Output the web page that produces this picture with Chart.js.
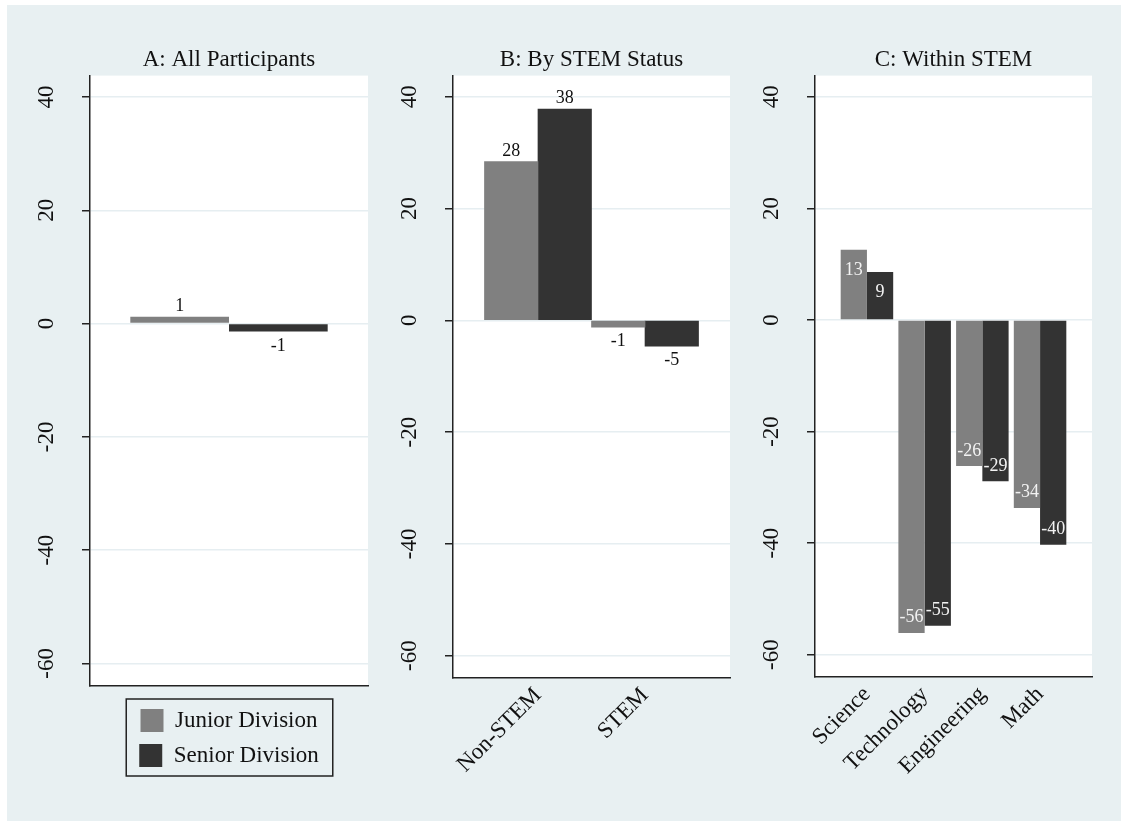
<!DOCTYPE html>
<html lang="en">
<head>
    <meta charset="UTF-8" />
    <title>Junior vs Senior Division</title>
    <script src="https://cdn.jsdelivr.net/npm/chart.js"></script>
    <style>
        body { margin: 0; background: #fff; width: 1121px; height: 821px; position: relative; overflow: hidden; }
        .region { position: absolute; left: 7px; top: 5px; right: 0; bottom: 0; background: #e8f0f2; }
        canvas { position: absolute; top: 0; }
    </style>
</head>
<body>
    <div class="region"></div>
    <canvas id="panelA" width="373" height="821" style="left:0px"></canvas>
    <canvas id="panelB" width="362" height="821" style="left:373px"></canvas>
    <canvas id="panelC" width="386" height="821" style="left:735px"></canvas>

    <script>
        // Data
        const seriesNames = ['Junior Division', 'Senior Division'];
        const yTicks = [40, 20, 0, -20, -40, -60];

        const catsA = ['All Participants'];
        const juniorA = [1.2];
        const seniorA = [-1.4];

        const catsB = ['Non-STEM', 'STEM'];
        const juniorB = [28.4, -1.2];
        const seniorB = [37.8, -4.6];

        const catsC = ['Science', 'Technology', 'Engineering', 'Math'];
        const juniorC = [12.6, -56.1, -26.2, -33.7];
        const seniorC = [8.6, -54.8, -28.9, -40.3];

        const serif = "'Liberation Serif', 'DejaVu Serif', serif";
        const juniorColor = '#808080';
        const seniorColor = '#333333';
        const axisColor = '#222222';
        const gridColor = '#e6eef1';
        const bigFont = 23;

        // white plot region
        const plotBg = {
            id: 'plotBg',
            beforeDraw(chart) {
                const a = chart.chartArea;
                chart.ctx.save();
                chart.ctx.fillStyle = '#ffffff';
                chart.ctx.fillRect(a.left, a.top, a.right - a.left, a.bottom - a.top);
                chart.ctx.restore();
            }
        };

        // value labels on the bars
        const barLabels = {
            id: 'barLabels',
            afterDatasetsDraw(chart, args, opts) {
                const ctx = chart.ctx;
                ctx.save();
                ctx.font = opts.size + 'px ' + serif;
                ctx.textAlign = 'center';
                ctx.textBaseline = 'alphabetic';
                chart.data.datasets.forEach((ds, di) => {
                    chart.getDatasetMeta(di).data.forEach((bar, i) => {
                        const v = ds.data[i].y;
                        let y;
                        if (opts.inside) {
                            ctx.fillStyle = '#f2f2f2';
                            y = v >= 0 ? bar.y + 25 : bar.y - 10.5;
                        } else {
                            ctx.fillStyle = '#111111';
                            y = v >= 0 ? bar.y - 6 : bar.y + 19;
                        }
                        ctx.fillText(String(Math.round(v)), bar.x, y);
                    });
                });
                ctx.restore();
            }
        };

        // framed legend box
        const legendFrame = {
            id: 'legendFrame',
            afterDraw(chart) {
                const lg = chart.legend;
                if (!lg || !lg.options.display || !lg.legendHitBoxes.length) return;
                const hb = lg.legendHitBoxes;
                const left = Math.min(...hb.map(h => h.left)) - 13;
                const right = Math.max(...hb.map(h => h.left + h.width)) + 14;
                const top = Math.min(...hb.map(h => h.top)) - 10;
                const bottom = Math.max(...hb.map(h => h.top + h.height)) + 9;
                const ctx = chart.ctx;
                ctx.save();
                ctx.strokeStyle = axisColor;
                ctx.lineWidth = 1.5;
                ctx.strokeRect(left, top, right - left, bottom - top);
                ctx.restore();
            }
        };

        function makePanel(id, title, cats, junior, senior, cfg) {
            const ctx = document.getElementById(id).getContext('2d');
            return new Chart(ctx, {
                type: 'bar',
                data: {
                    datasets: [
                        { label: seriesNames[0], data: junior.map((v, i) => ({ x: i + 1, y: v })), backgroundColor: juniorColor, borderWidth: 0 },
                        { label: seriesNames[1], data: senior.map((v, i) => ({ x: i + 1, y: v })), backgroundColor: seniorColor, borderWidth: 0 }
                    ]
                },
                options: {
                    responsive: false,
                    animation: false,
                    categoryPercentage: cfg.catPct,
                    barPercentage: 1,
                    layout: { padding: { left: 0, right: cfg.padRight, top: 0, bottom: cfg.padBottom } },
                    plugins: {
                        title: {
                            display: true, text: title, fullSize: false, color: '#111',
                            font: { family: serif, size: bigFont, weight: 'normal' },
                            padding: { top: 46, bottom: 2 }
                        },
                        legend: {
                            display: cfg.legend, position: 'bottom', fullSize: false,
                            labels: { boxWidth: 23, boxHeight: 23, padding: 12, color: '#111', font: { family: serif, size: bigFont } }
                        },
                        tooltip: { enabled: false },
                        barLabels: { inside: cfg.inside, size: 18 }
                    },
                    scales: {
                        x: {
                            type: 'linear', offset: false,
                            min: cfg.xMin, max: cfg.xMax,
                            afterBuildTicks: s => { s.ticks = cats.map((c, i) => ({ value: i + 1 })); },
                            grid: { display: false, drawTicks: false, offset: false },
                            border: { display: true, color: axisColor, width: 1.5 },
                            ticks: {
                                display: cfg.xLabels, autoSkip: false, minRotation: 45, maxRotation: 45, padding: 4,
                                color: '#111', font: { family: serif, size: bigFont },
                                callback: v => cats[v - 1]
                            },
                            afterFit: s => { s.height = cfg.xHeight; }
                        },
                        y: {
                            min: -64, max: 43.8,
                            afterBuildTicks: s => { s.ticks = yTicks.map(v => ({ value: v })); },
                            grid: { color: gridColor, lineWidth: 1.5, tickColor: axisColor, tickLength: 8, drawTicks: true },
                            border: { display: true, color: axisColor, width: 1.5 },
                            ticks: {
                                minRotation: 90, maxRotation: 90, crossAlign: 'center', padding: 20,
                                color: '#111', font: { family: serif, size: bigFont }
                            },
                            afterFit: s => { s.width = cfg.yWidth; }
                        }
                    }
                },
                plugins: [plotBg, barLabels, legendFrame]
            });
        }

        makePanel('panelA', 'A: All Participants', catsA, juniorA, seniorA, {
            catPct: 0.71, xMin: 0, xMax: 2, xLabels: false, xHeight: 11,
            yWidth: 90, padRight: 5, padBottom: 44, legend: true, inside: false
        });
        makePanel('panelB', 'B: By STEM Status', catsB, juniorB, seniorB, {
            catPct: 1, xMin: 0.206, xMax: 2.794, xLabels: true, xHeight: 143,
            yWidth: 80, padRight: 5, padBottom: 0, legend: false, inside: false
        });
        makePanel('panelC', 'C: Within STEM', catsC, juniorC, seniorC, {
            catPct: 0.91, xMin: 0.1, xMax: 4.9, xLabels: true, xHeight: 144,
            yWidth: 80, padRight: 29, padBottom: 0, legend: false, inside: true
        });
    </script>
</body>
</html>
